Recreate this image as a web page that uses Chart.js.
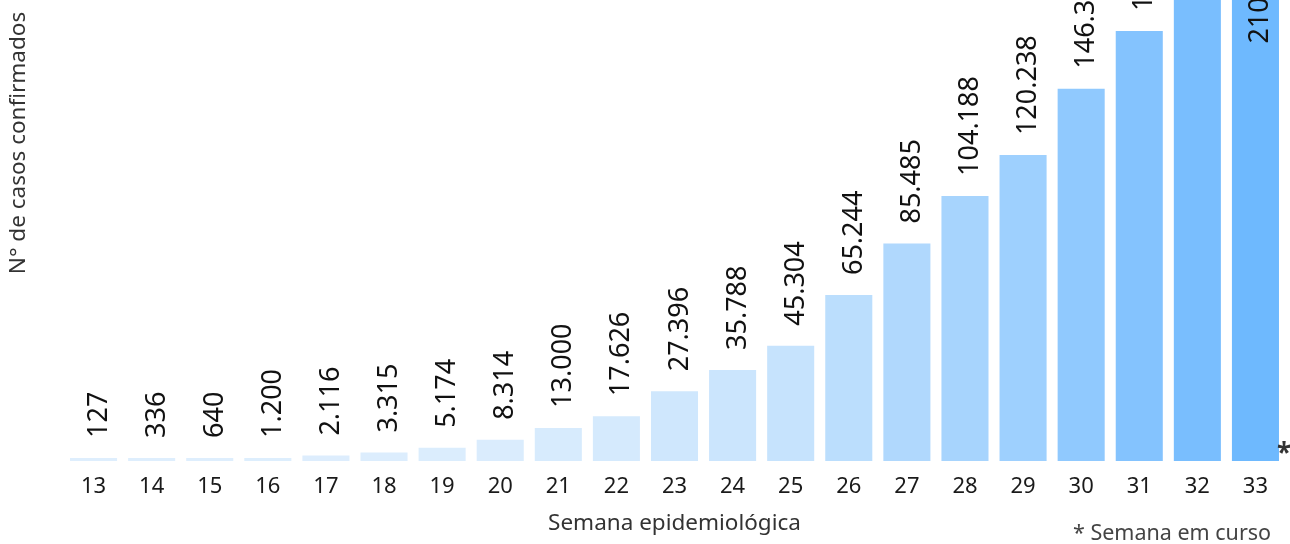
<!DOCTYPE html>
<html>
<head>
<meta charset="utf-8">
<script src="https://cdn.jsdelivr.net/npm/chart.js@4"></script>
<style>
  html, body { margin: 0; padding: 0; background: #fff; overflow: hidden; }
  body { width: 1290px; height: 544px; position: relative; }
  #wrap { position: absolute; left: 0; top: -185px; width: 1290px; height: 729px; }
  #note { position: absolute; left: 1073px; top: 517px; font: 21.5px "Noto Sans", sans-serif; color: #444; white-space: nowrap; }
</style>
</head>
<body>
<div id="wrap"><canvas id="chart" width="1290" height="729"></canvas></div>
<div id="note">* Semana em curso</div>
<script>
const weeks = ["13", "14", "15", "16", "17", "18", "19", "20", "21", "22", "23",
  "24", "25", "26", "27", "28", "29", "30", "31", "32", "33"];
const cases = [127, 336, 640, 1200, 2116, 3315, 5174, 8314, 13000, 17626, 27396,
  35788, 45304, 65244, 85485, 104188, 120238, 146321, 169012, 190116, 210412];
const yMax = 250000;

// light -> dark blue by value
const lowColor = [222, 238, 253];
const highColor = [110, 185, 254];
const maxCases = Math.max(...cases);
const barColors = cases.map((v) => {
  const t = v / maxCases;
  const c = lowColor.map((a, k) => Math.round(a + (highColor[k] - a) * t));
  return `rgb(${c[0]}, ${c[1]}, ${c[2]})`;
});

const fmt = (n) => String(n).replace(/\B(?=(\d{3})+(?!\d))/g, ".");

const barLabels = {
  id: "barLabels",
  afterDatasetsDraw(chart) {
    const { ctx, chartArea } = chart;
    const meta = chart.getDatasetMeta(0);
    ctx.save();
    ctx.font = '27px "Noto Sans", sans-serif';
    ctx.fillStyle = "#111";
    ctx.textBaseline = "alphabetic";
    meta.data.forEach((bar, i) => {
      const text = fmt(cases[i]);
      const w = ctx.measureText(text).width;
      const top = bar.y;
      ctx.save();
      ctx.translate(bar.x + 13, 0);
      ctx.rotate(-Math.PI / 2);
      if (top - 20 - w >= chartArea.top) {
        ctx.textAlign = "left";
        ctx.fillText(text, -(top - 20), 0);
      } else {
        // no room above: put it inside the bar
        ctx.textAlign = "right";
        ctx.fillText(text, -(top + 18), 0);
      }
      ctx.restore();
    });
    // current week marker
    const last = meta.data[meta.data.length - 1];
    ctx.font = 'bold 26px "Noto Sans", sans-serif';
    ctx.fillStyle = "#333";
    ctx.textAlign = "left";
    ctx.fillText("*", last.x + last.width / 2 - 2, chartArea.bottom + 1);
    ctx.restore();
  },
};

new Chart(document.getElementById("chart"), {
  type: "bar",
  data: {
    labels: weeks,
    datasets: [
      {
        data: cases,
        backgroundColor: barColors,
        categoryPercentage: 1,
        barPercentage: 0.81,
        minBarLength: 3,
      },
    ],
  },
  options: {
    responsive: false,
    animation: false,
    layout: { padding: { top: 10, right: 5.5, left: 0, bottom: 0 } },
    plugins: { legend: { display: false }, tooltip: { enabled: false } },
    scales: {
      x: {
        grid: { display: false, drawTicks: false },
        border: { display: false },
        ticks: { color: "#1a1a1a", font: { family: "Noto Sans", size: 22 }, padding: 13, maxRotation: 0 },
        title: {
          display: true,
          text: "Semana epidemiológica",
          color: "#333",
          font: { family: "Noto Sans", size: 22.5 },
          padding: { top: 0, bottom: 7 },
        },
        afterFit: (s) => { s.height = 83; },
      },
      y: {
        min: 0,
        max: yMax,
        grid: { display: false, drawTicks: false },
        border: { display: false },
        ticks: { display: false },
        title: {
          display: true,
          text: "N° de casos confirmados",
          color: "#333",
          font: { family: "Noto Sans", size: 22.5 },
          padding: { top: 5, bottom: 0 },
        },
        afterFit: (s) => { s.width = 64.5; },
      },
    },
  },
  plugins: [barLabels],
});
</script>
</body>
</html>
